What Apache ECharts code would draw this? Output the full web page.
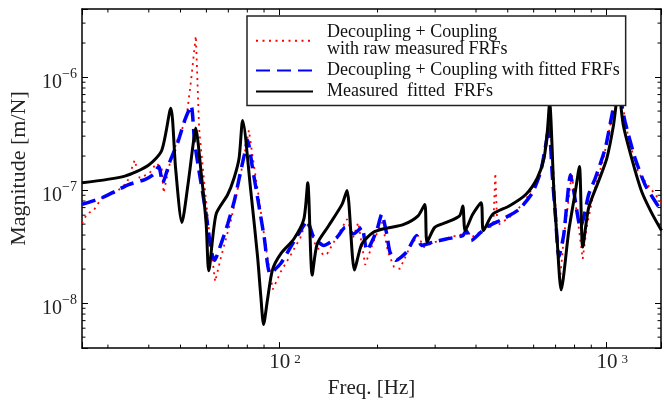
<!DOCTYPE html>
<html>
<head>
<meta charset="utf-8">
<script src="https://cdn.jsdelivr.net/npm/echarts@6/dist/echarts.min.js"></script>
<style>
  html, body { margin: 0; padding: 0; background: #fff; }
  #chart { width: 664px; height: 404px; }
</style>
</head>
<body>
<div id="chart"></div>
<script>
// [frequency Hz, magnitude m/N]
const rawMeasured = [
  [25.0, 5.07e-8], [25.9, 6.19e-8], [27.1, 6.58e-8], [28.75, 8.55e-8], [31.6, 9.45e-8],
  [34.3, 1.16e-7], [36.2, 1.84e-7], [37.5, 1.28e-7], [40.2, 1.41e-7], [42.2, 1.73e-7],
  [43.8, 1.56e-7], [44.4, 9.45e-8], [46.4, 1.73e-7], [49.1, 2.86e-7], [52.1, 4.27e-7],
  [53.9, 9.55e-7], [55.1, 1.75e-6], [55.7, 2.31e-6], [56.3, 9.55e-7], [57.0, 3.49e-7],
  [59.1, 1.16e-7], [61.2, 4.23e-8], [63.8, 1.55e-8], [66.5, 2.56e-8], [71.4, 5.49e-8],
  [76.5, 1.41e-7], [80.9, 3.38e-7], [83.2, 1.91e-7], [86.8, 8.55e-8], [91.1, 3.13e-8],
  [95.7, 1.32e-8], [101.2, 1.89e-8], [108.5, 2.66e-8], [116.4, 3.82e-8], [120.5, 5.17e-8],
  [124.8, 4.49e-8], [129.2, 3.26e-8], [136.7, 2.66e-8], [140.3, 2.73e-8], [161.3, 5.53e-8],
  [168.6, 3.82e-8], [174.6, 5.17e-8], [183.3, 2.18e-8], [196.6, 3.82e-8], [206.5, 5.17e-8],
  [215.3, 2.83e-8], [224.5, 2.09e-8], [234.1, 2.01e-8], [251.1, 3.13e-8], [265.6, 3.98e-8],
  [276.9, 3.13e-8], [299.1, 3.46e-8], [332.1, 3.82e-8], [363.7, 4.06e-8], [374.0, 4.49e-8],
  [387.3, 3.82e-8], [424.2, 4.49e-8], [451.8, 4.87e-8], [458.1, 1.41e-7], [464.5, 4.87e-8],
  [505.2, 5.72e-8], [561.0, 7.73e-8], [623.1, 1.33e-7], [659.0, 2.86e-7], [672.9, 4.27e-7],
  [691.8, 1.28e-7], [711.5, 3.13e-8], [721.5, 1.55e-8], [742.0, 3.82e-8], [768.4, 8.55e-8],
  [784.7, 1.41e-7], [801.3, 8.55e-8], [824.0, 4.68e-8], [847.4, 2.46e-8], [871.4, 4.68e-8],
  [915.1, 9.45e-8], [981.3, 1.91e-7], [1030, 3.86e-7], [1082, 8.13e-7], [1128, 5.22e-7],
  [1169, 2.86e-7], [1253, 1.41e-7], [1313, 1.20e-7], [1475, 7.73e-8]
];

const fittedCoupled = [
  [25.0, 7.47e-8], [28.75, 8.55e-8], [31.6, 9.78e-8], [34.7, 1.12e-7], [38.9, 1.24e-7],
  [41.3, 1.37e-7], [42.9, 1.62e-7], [44.1, 1.16e-7], [46.4, 1.79e-7], [49.1, 2.67e-7],
  [51.5, 4.13e-7], [53.9, 5.58e-7], [55.2, 2.67e-7], [57.2, 1.37e-7], [59.9, 6.11e-8],
  [62.0, 2.93e-8], [63.5, 2.39e-8], [66.5, 3.34e-8], [69.7, 5.00e-8], [73.0, 8.00e-8],
  [75.6, 1.28e-7], [78.3, 2.04e-7], [80.2, 2.76e-7], [83.0, 1.56e-7], [86.0, 8.55e-8],
  [90.1, 3.82e-8], [93.9, 1.83e-8], [101.2, 2.24e-8], [108.5, 3.13e-8], [116.4, 4.38e-8],
  [121.9, 5.35e-8], [127.7, 3.82e-8], [137.0, 3.24e-8], [150.4, 3.82e-8], [159.4, 4.68e-8],
  [169.0, 4.09e-8], [179.1, 4.68e-8], [185.5, 2.93e-8], [198.9, 4.38e-8], [206.0, 6.11e-8],
  [213.4, 4.09e-8], [218.3, 2.83e-8], [227.7, 2.39e-8], [245.4, 2.83e-8], [263.2, 3.96e-8],
  [272.5, 3.24e-8], [295.5, 3.46e-8], [324.5, 3.69e-8], [364.5, 3.96e-8], [373.2, 4.38e-8],
  [386.5, 3.58e-8], [429.3, 4.68e-8], [482.1, 5.53e-8], [541.8, 6.76e-8], [594.5, 9.45e-8],
  [630.5, 1.46e-7], [655.7, 2.67e-7], [668.2, 3.73e-7], [683.8, 1.37e-7], [700.1, 5.72e-8],
  [716.5, 2.56e-8], [742.0, 4.09e-8], [777.5, 1.37e-7], [795.6, 9.78e-8], [833.9, 4.68e-8],
  [853.3, 5.72e-8], [883.7, 9.14e-8], [926.0, 1.28e-7], [993.1, 2.34e-7], [1040, 4.56e-7],
  [1084, 7.81e-7], [1142, 4.00e-7], [1225, 1.91e-7], [1313, 1.12e-7], [1408, 8.00e-8],
  [1475, 6.54e-8]
];

const measuredFitted = [
  [25.0, 1.16e-7], [33.8, 1.33e-7], [39.9, 1.66e-7], [43.8, 2.24e-7], [46.7, 5.30e-7],
  [48.3, 1.56e-7], [50.5, 5.17e-8], [52.7, 1.12e-7], [54.6, 2.50e-7], [55.6, 3.54e-7],
  [57.9, 1.37e-7], [59.9, 5.00e-8], [61.0, 1.93e-8], [64.2, 6.11e-8], [69.7, 9.14e-8],
  [72.9, 1.28e-7], [75.5, 1.91e-7], [77.4, 4.13e-7], [82.0, 9.78e-8], [86.0, 2.56e-8],
  [88.0, 1.14e-8], [89.7, 6.48e-9], [92.2, 1.07e-8], [95.5, 1.97e-8], [101.2, 2.73e-8],
  [111.0, 3.69e-8], [119.1, 5.53e-8], [122.4, 1.16e-7], [126.3, 1.77e-8], [130.8, 3.34e-8],
  [141.8, 4.84e-8], [155.8, 7.47e-8], [161.3, 9.90e-8], [170.1, 1.96e-8], [179.1, 3.34e-8],
  [194.3, 4.23e-8], [213.4, 4.61e-8], [239.6, 4.94e-8], [266.1, 5.92e-8], [278.9, 7.47e-8],
  [283.4, 3.46e-8], [299.1, 4.68e-8], [324.5, 5.17e-8], [356.2, 5.92e-8], [364.5, 7.23e-8],
  [370.6, 4.38e-8], [390.8, 6.11e-8], [414.5, 7.73e-8], [421.2, 4.38e-8], [449.6, 6.11e-8],
  [505.2, 7.23e-8], [567.7, 9.14e-8], [615.7, 1.28e-7], [645.3, 1.91e-7], [660.4, 3.27e-7],
  [671.4, 5.89e-7], [691.8, 9.78e-8], [707.9, 3.58e-8], [728.1, 1.31e-8], [768.4, 4.38e-8],
  [805.2, 9.84e-8], [828.0, 1.62e-7], [847.4, 3.13e-8], [883.7, 6.99e-8], [947.6, 1.20e-7],
  [1004, 1.91e-7], [1052, 3.73e-7], [1090, 7.55e-7], [1128, 3.73e-7], [1196, 1.91e-7],
  [1282, 9.78e-8], [1375, 6.32e-8], [1475, 4.38e-8]
];

const seriesNames = [
  'Decoupling + Coupling\nwith raw measured FRFs',
  'Decoupling + Coupling with fitted FRFs',
  'Measured  fitted  FRFs'
];
const freqRange = [25, 1470];
const magRange = [4e-9, 4e-6];

// minor (log) tick positions for the box frame
const freqMinorTicks = [30, 40, 50, 60, 70, 80, 90, 200, 300, 400, 500, 600, 700, 800, 900];
const magMinorTicks = [5e-9, 6e-9, 7e-9, 8e-9, 9e-9,
  2e-8, 3e-8, 4e-8, 5e-8, 6e-8, 7e-8, 8e-8, 9e-8,
  2e-7, 3e-7, 4e-7, 5e-7, 6e-7, 7e-7, 8e-7, 9e-7,
  2e-6, 3e-6];

const serif = '"Liberation Serif", "Times New Roman", serif';

// only label the decades, as 10^n
function decadeLabel(v) {
  const e = Math.log10(v);
  const r = Math.round(e);
  if (Math.abs(e - r) > 1e-3) return '';
  return '{b|10}{s|' + String(r).replace('-', '\u2212') + '}';
}

const frameAxis = {
  type: 'log',
  logBase: 10,
  axisLine: { show: true, onZero: false, lineStyle: { color: '#000', width: 1.5 } },
  axisTick: { show: true, inside: true, length: 6, lineStyle: { color: '#000', width: 1 } },
  splitLine: { show: false }
};

const tickStyle = { stroke: '#000', lineWidth: 1 };

// short inward ticks on both opposite sides of the frame
function minorTicks(isX) {
  return function (params, api) {
    let a, b, d;
    if (isX) {
      const v = api.value(0);
      a = api.coord([v, magRange[0]]);
      b = api.coord([v, magRange[1]]);
      d = [0, -3.5];
    } else {
      const v = api.value(1);
      a = api.coord([freqRange[0], v]);
      b = api.coord([freqRange[1], v]);
      d = [3.5, 0];
    }
    return {
      type: 'group',
      children: [
        { type: 'line', shape: { x1: a[0], y1: a[1], x2: a[0] + d[0], y2: a[1] + d[1] }, style: tickStyle },
        { type: 'line', shape: { x1: b[0], y1: b[1], x2: b[0] - d[0], y2: b[1] - d[1] }, style: tickStyle }
      ]
    };
  };
}

const chart = echarts.init(document.getElementById('chart'));

const option = {
  backgroundColor: '#fff',
  animation: false,
  grid: { left: 80, right: 1, top: 9, bottom: 52 },
  legend: {
    orient: 'vertical',
    left: 247,
    top: 16,
    padding: [7, 6, 5, 8],
    itemWidth: 57,
    itemHeight: 10,
    itemGap: 3,
    borderColor: '#222',
    borderWidth: 1.5,
    backgroundColor: '#fff',
    data: seriesNames,
    itemStyle: { opacity: 0 },
    textStyle: {
      fontFamily: serif,
      fontSize: 18,
      lineHeight: 17.5,
      color: '#111',
      padding: [0, 0, 0, 9]
    }
  },
  xAxis: [
    Object.assign({}, frameAxis, {
      min: freqRange[0],
      max: freqRange[1],
      position: 'bottom',
      name: 'Freq. [Hz]',
      nameLocation: 'middle',
      nameGap: 28,
      nameTextStyle: { fontFamily: serif, fontSize: 21, color: '#222' },
      axisLabel: {
        margin: 2,
        formatter: decadeLabel,
        rich: {
          b: { fontFamily: serif, fontSize: 21, lineHeight: 21, color: '#222', padding: [4, 0, 0, 12] },
          s: { fontFamily: serif, fontSize: 13, lineHeight: 13, color: '#222', verticalAlign: 'top', padding: [3, 0, 0, 4] }
        }
      }
    }),
    Object.assign({}, frameAxis, {
      min: freqRange[0],
      max: freqRange[1],
      position: 'top',
      axisLabel: { show: false }
    })
  ],
  yAxis: [
    Object.assign({}, frameAxis, {
      min: magRange[0],
      max: magRange[1],
      position: 'left',
      name: 'Magnitude [m/N]',
      nameLocation: 'middle',
      nameGap: 52,
      nameTextStyle: { fontFamily: serif, fontSize: 22, color: '#222', padding: [0, 0, 0, 20] },
      axisLabel: {
        margin: 5,
        formatter: decadeLabel,
        rich: {
          b: { fontFamily: serif, fontSize: 20, lineHeight: 20, color: '#222', padding: [12, 0, 0, 0] },
          s: { fontFamily: serif, fontSize: 14, lineHeight: 14, color: '#222', verticalAlign: 'top' }
        }
      }
    }),
    Object.assign({}, frameAxis, {
      min: magRange[0],
      max: magRange[1],
      position: 'right',
      axisLabel: { show: false }
    })
  ],
  series: [
    {
      name: seriesNames[0],
      type: 'line',
      data: rawMeasured,
      symbol: 'none',
      lineStyle: { color: '#ff0000', width: 1.8, type: [2, 4.5] },
      itemStyle: { color: '#ff0000' }
    },
    {
      name: seriesNames[1],
      type: 'line',
      data: fittedCoupled,
      symbol: 'none',
      smooth: 0.2,
      lineStyle: { color: '#0000ff', width: 3.5, type: [14, 7] },
      itemStyle: { color: '#0000ff' }
    },
    {
      name: seriesNames[2],
      type: 'line',
      data: measuredFitted,
      symbol: 'none',
      smooth: 0.25,
      lineStyle: { color: '#000', width: 3 },
      itemStyle: { color: '#000' }
    },
    {
      type: 'custom',
      silent: true,
      clip: false,
      data: freqMinorTicks.map(function (v) { return [v, magRange[0]]; }),
      renderItem: minorTicks(true)
    },
    {
      type: 'custom',
      silent: true,
      clip: false,
      data: magMinorTicks.map(function (v) { return [freqRange[0], v]; }),
      renderItem: minorTicks(false)
    }
  ]
};

chart.setOption(option);
</script>
</body>
</html>
